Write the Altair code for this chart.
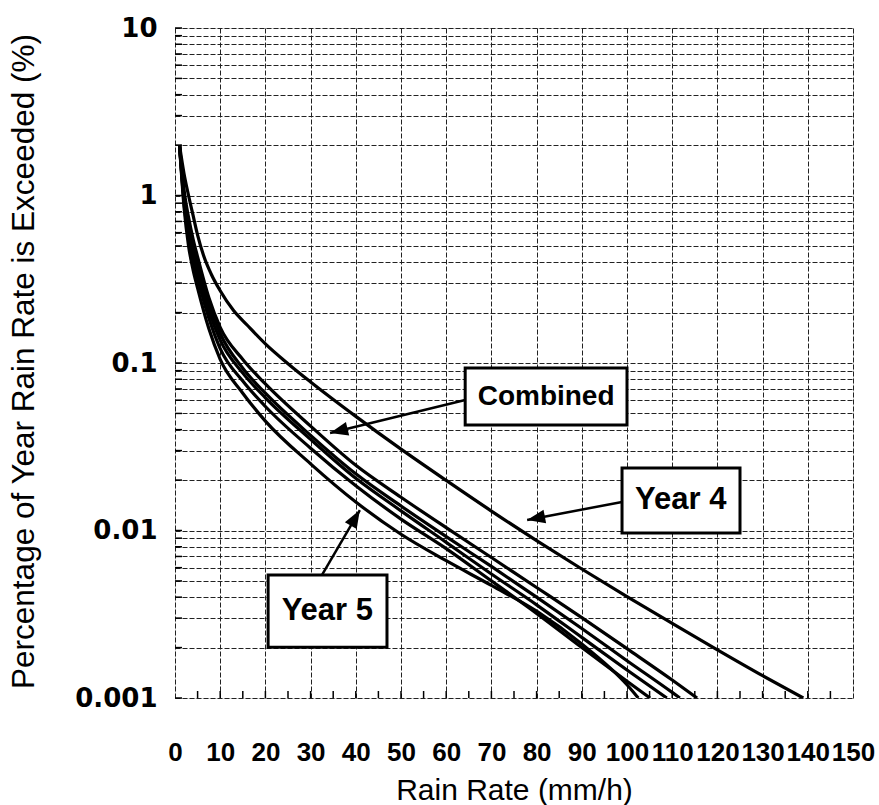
import math
import altair as alt
import pandas as pd

# ---------------- data ----------------
year1_x = [1, 2, 3, 4, 5, 7.5, 10, 15, 20, 30, 40, 50, 60, 70, 80, 90, 100, 110, 115.5]
year1_y = [2.0, 1.08, 0.74, 0.55, 0.43, 0.245, 0.163, 0.105, 0.075, 0.042, 0.0245, 0.0158, 0.0104,
           0.0069, 0.00457, 0.00302, 0.00197, 0.00128, 0.001]

combined_x = [1, 2, 3, 4, 5, 7.5, 10, 15, 20, 30, 40, 50, 60, 70, 80, 90, 100, 110, 111.7]
combined_y = [2.0, 1.0, 0.68, 0.5, 0.39, 0.225, 0.15, 0.093, 0.066, 0.037, 0.0218, 0.014, 0.0092,
              0.0061, 0.0040, 0.0026, 0.00167, 0.00108, 0.001]

year2_x = [1, 2, 3, 4, 5, 7.5, 10, 15, 20, 30, 40, 50, 60, 70, 80, 90, 100, 108.8]
year2_y = [2.0, 0.95, 0.62, 0.45, 0.35, 0.205, 0.137, 0.087, 0.062, 0.035, 0.0205, 0.0131, 0.0085,
           0.0055, 0.0036, 0.0023, 0.00147, 0.001]

year3_x = [1, 2, 3, 4, 5, 7.5, 10, 15, 20, 30, 40, 50, 60, 70, 80, 90, 100, 105.1]
year3_y = [2.0, 0.9, 0.56, 0.41, 0.32, 0.185, 0.122, 0.078, 0.055, 0.031, 0.0185, 0.0117, 0.0078,
           0.0050, 0.0032, 0.0020, 0.00126, 0.001]

year5_x = [1, 2, 3, 4, 5, 7.5, 10, 15, 20, 30, 40, 50, 60, 70, 80, 90, 100, 102.5]
year5_y = [2.0, 0.85, 0.5, 0.36, 0.28, 0.16, 0.105, 0.066, 0.045, 0.025, 0.0148, 0.0095, 0.0066,
           0.0047, 0.0033, 0.0021, 0.0012, 0.001]

year4_x = [1, 2, 3, 4, 5, 6.3, 8, 10, 13, 16, 20, 25, 30, 40, 50, 60, 70, 80, 90, 100, 110,
           120, 130, 139]
year4_y = [2.0, 1.35, 1.0, 0.76, 0.58, 0.44, 0.34, 0.27, 0.205, 0.168, 0.13, 0.099, 0.077, 0.048,
           0.0306, 0.0199, 0.01306, 0.00871, 0.00589, 0.00403, 0.00279, 0.00194, 0.00136, 0.001]

series = {
    "Year 1": (year1_x, year1_y),
    "Combined": (combined_x, combined_y),
    "Year 2": (year2_x, year2_y),
    "Year 3": (year3_x, year3_y),
    "Year 4": (year4_x, year4_y),
    "Year 5": (year5_x, year5_y),
}

x_ticks = list(range(0, 151, 10))
x_minor_ticks = list(range(5, 150, 5))
y_major = [0.001, 0.01, 0.1, 1, 10]
y_grid = sorted({round(m * d, 6) for d in [0.001, 0.01, 0.1, 1] for m in range(1, 10)} | {10})

# annotation boxes (data units)
box_label = ["Combined", "Year 4", "Year 5"]
box_x1 = [64.2, 98.9, 20.6]
box_x2 = [100.0, 125.0, 46.9]
box_ytop = [0.0933, 0.0236, 0.00542]
box_ybot = [0.0427, 0.00966, 0.00201]
text_x = [82.1, 111.9, 33.7]
text_y = [0.0627, 0.0152, 0.0033]
text_size = [28, 31, 31]
# arrows: start (at box) and tip (at curve)
arrow_x0 = [64.2, 98.9, 32.5]
arrow_y0 = [0.0601, 0.0148, 0.00542]
arrow_x1 = [34.3, 77.9, 40.9]
arrow_y1 = [0.0382, 0.01156, 0.01325]

# ---------------- layout ----------------
W, H = 678, 670
XMIN, XMAX = 0, 150
YMIN, YMAX = 0.001, 10
px_per_x = W / (XMAX - XMIN)
px_per_dec = H / (math.log10(YMAX) - math.log10(YMIN))

rows = []
for name, (xs, ys) in series.items():
    for i, (xv, yv) in enumerate(zip(xs, ys)):
        rows.append({"series": name, "x": xv, "y": yv, "order": i})
df = pd.DataFrame(rows)

xscale = alt.Scale(domain=[XMIN, XMAX], nice=False, zero=False)
yscale = alt.Scale(type="log", domain=[YMIN, YMAX], nice=False)

label_expr = " || ".join(f"datum.value == {v}" for v in y_major)

x_axis = alt.Axis(
    values=x_ticks, grid=True, gridColor="#222222", gridDash=[5, 2], gridWidth=1,
    ticks=False, domain=False, labelFont="Liberation Sans", labelFontWeight="bold",
    labelFontSize=26, labelColor="black", labelPadding=41, labelFlush=False,
    title="Rain Rate (mm/h)", titleFont="Liberation Sans", titleFontSize=30,
    titleFontWeight="normal", titleColor="black", titleY=92, titleBaseline="middle",
)
y_axis = alt.Axis(
    values=y_grid, grid=True, gridColor="#222222", gridDash=[5, 2], gridWidth=1,
    ticks=False, domain=False, labelFont="DejaVu Sans", labelFontWeight="bold",
    labelFontSize=26, labelColor="black", labelPadding=18, labelFlush=False,
    labelExpr=f"({label_expr}) ? '' + datum.value : ''",
    title="Percentage of Year Rain Rate is Exceeded (%)", titleFont="Liberation Sans",
    titleFontSize=31.5, titleFontWeight="normal", titleColor="black",
    titleX=-151, titleY=H / 2 - 2, titleAngle=-90, titleAlign="center", titleBaseline="middle",
)

lines = alt.Chart(df).mark_line(
    color="black", strokeWidth=3.2, interpolate="monotone", clip=True
).encode(
    x=alt.X("x:Q", scale=xscale, axis=x_axis),
    y=alt.Y("y:Q", scale=yscale, axis=y_axis),
    detail="series:N",
    order="order:Q",
)

# inward tick marks along bottom and left edges
tick_len_y = 10 ** (math.log10(YMIN) + 7 / px_per_dec)
bt = pd.DataFrame({"x": x_minor_ticks, "y": [YMIN] * len(x_minor_ticks), "y2": [tick_len_y] * len(x_minor_ticks)})
bottom_ticks = alt.Chart(bt).mark_rule(color="black", strokeWidth=1.5).encode(
    x=alt.X("x:Q", scale=xscale), y=alt.Y("y:Q", scale=yscale), y2="y2:Q"
)
lt = pd.DataFrame({"y": y_grid, "x": [XMIN] * len(y_grid), "x2": [7 / px_per_x] * len(y_grid)})
left_ticks = alt.Chart(lt).mark_rule(color="black", strokeWidth=1.5).encode(
    y=alt.Y("y:Q", scale=yscale), x=alt.X("x:Q", scale=xscale), x2="x2:Q"
)

# arrows
adf = pd.DataFrame({"x0": arrow_x0, "y0": arrow_y0, "x1": arrow_x1, "y1": arrow_y1})
angles = []
for x0, y0, x1, y1 in zip(arrow_x0, arrow_y0, arrow_x1, arrow_y1):
    dx = (x1 - x0) * px_per_x
    dy = -(math.log10(y1) - math.log10(y0)) * px_per_dec
    angles.append(math.degrees(math.atan2(dx, -dy)) % 360)
adf["angle"] = angles

arrow_lines = alt.Chart(adf).mark_rule(color="black", strokeWidth=2.5).encode(
    x=alt.X("x0:Q", scale=xscale), y=alt.Y("y0:Q", scale=yscale), x2="x1:Q", y2="y1:Q"
)
arrow_heads = alt.Chart(adf).mark_point(
    shape="M0,0 L0.38,1 L-0.38,1 Z", filled=True, color="black", opacity=1, size=1300
).encode(
    x=alt.X("x1:Q", scale=xscale), y=alt.Y("y1:Q", scale=yscale),
    angle=alt.Angle("angle:Q", scale=None),
)

bdf = pd.DataFrame({"label": box_label, "x1": box_x1, "x2": box_x2, "yt": box_ytop, "yb": box_ybot,
                    "tx": text_x, "ty": text_y, "fs": text_size})
boxes = alt.Chart(bdf).mark_rect(fill="white", stroke="black", strokeWidth=3).encode(
    x=alt.X("x1:Q", scale=xscale), x2="x2:Q", y=alt.Y("yt:Q", scale=yscale), y2="yb:Q"
)
texts = alt.Chart(bdf).mark_text(
    font="Liberation Sans", fontWeight="bold", color="black", align="center", baseline="middle"
).encode(
    x=alt.X("tx:Q", scale=xscale), y=alt.Y("ty:Q", scale=yscale), text="label:N",
    size=alt.Size("fs:Q", scale=None, legend=None),
)

chart = alt.layer(lines, bottom_ticks, left_ticks, arrow_lines, arrow_heads, boxes, texts).properties(
    width=W, height=H,
    padding={"left": 175, "top": 28, "right": 26, "bottom": 107},
    autosize=alt.AutoSizeParams(type="none"),
).configure_view(
    stroke="black", strokeWidth=3
).configure(background="white")

chart.save("out.html", embed_options={"renderer": "svg", "actions": False})
